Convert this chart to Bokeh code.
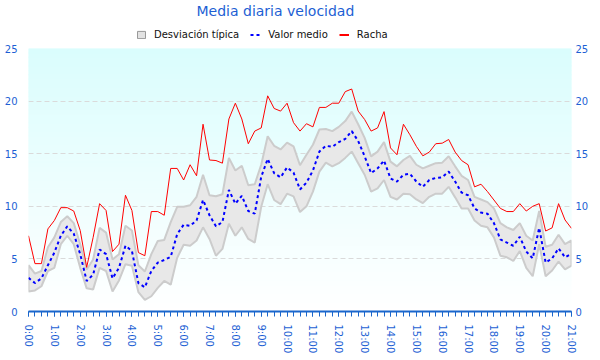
import numpy as np
from bokeh.plotting import figure
from bokeh.layouts import column
from bokeh.models import Range1d, LinearAxis, FixedTicker, Legend, LegendItem
from bokeh.embed import file_html
from bokeh.resources import INLINE

# ---- data (every 15 minutes, 0:00 .. 21:00) ----
horas = np.arange(85) * 0.25
etiquetas_horas = [f"{h}:00" for h in range(22)]
y_ticks = [0, 5, 10, 15, 20, 25]

racha = [7.2, 4.55, 4.55, 7.85, 8.65, 9.87, 9.87, 9.55, 7.7, 4.2, 7.05, 10.25, 9.6, 5.7, 6.4, 11.05, 9.6, 5.6, 5.3, 9.5, 9.5, 9.15,
         13.6, 13.6, 12.5, 13.95, 12.9, 17.8, 14.4, 14.35, 14.1, 18.3, 19.8, 18.3, 15.95, 17.15, 17.45, 20.5, 19.3, 19.05, 19.8, 17.95, 17.15,
         17.85, 17.55, 19.4, 19.4, 19.8, 19.8, 20.9, 21.15, 19.05, 18.25, 17.15, 17.45, 19.0, 15.55, 14.9, 17.8, 16.8, 15.7, 14.8, 15.15, 15.95,
         16.0, 16.35, 15.15, 14.35, 13.95, 11.85, 12.1, 11.4, 10.6, 9.8, 9.5, 9.5, 10.25, 9.55, 10.0, 10.25, 7.65, 7.95, 10.25, 8.7, 7.9]

media = [3.2, 2.7, 3.15, 4.4, 5.6, 7.2, 8.1, 7.4, 5.45, 2.9, 3.5, 5.9, 5.45, 3.15, 4.15, 6.25, 5.75, 2.7, 2.3, 3.85, 4.65, 4.9,
         5.2, 7.35, 8.25, 8.15, 8.65, 10.6, 9.15, 8.1, 8.5, 11.55, 10.25, 11.0, 9.55, 9.3, 12.8, 14.5, 13.15, 12.75, 13.7, 13.2, 11.6,
         12.25, 13.4, 15.2, 15.75, 15.65, 16.1, 16.4, 17.15, 16.2, 14.75, 13.15, 13.6, 14.35, 12.65, 12.35, 13.0, 13.1, 12.35, 11.85, 12.5, 12.7,
         12.75, 13.3, 12.35, 11.3, 11.05, 9.8, 9.4, 9.3, 8.4, 6.85, 6.55, 6.25, 7.1, 5.7, 5.05, 7.95, 4.65, 5.05, 6.0, 5.15, 5.5]

desv_sup = [4.4, 3.6, 3.85, 6.1, 7.05, 8.5, 9.05, 8.4, 6.4, 4.0, 4.95, 7.95, 7.5, 4.95, 5.45, 8.15, 7.7, 4.4, 3.8, 5.45, 6.7, 6.8,
            8.5, 9.95, 9.95, 10.1, 10.9, 13.0, 11.05, 10.95, 11.15, 14.6, 13.4, 13.85, 12.0, 12.1, 13.95, 16.65, 15.75, 15.4, 16.05, 15.7, 13.9,
            14.9, 15.85, 17.3, 17.35, 17.15, 17.55, 18.1, 19.0, 17.8, 16.5, 14.75, 15.2, 16.1, 14.25, 13.8, 14.4, 14.8, 13.95, 13.6, 13.85, 14.1,
            14.15, 14.75, 13.8, 12.9, 12.5, 10.9, 10.65, 10.4, 9.8, 8.4, 8.0, 7.75, 8.4, 7.2, 6.75, 9.55, 6.15, 6.35, 7.3, 6.4, 6.75]

desv_inf = [1.9, 2.0, 2.4, 3.85, 4.15, 6.4, 7.2, 6.4, 4.15, 2.2, 2.1, 4.15, 3.85, 1.9, 2.95, 4.5, 4.35, 1.85, 1.1, 1.45, 2.25, 2.9,
            2.55, 5.1, 6.35, 6.25, 6.75, 8.0, 6.9, 5.3, 5.95, 8.35, 7.2, 8.0, 6.9, 6.55, 9.95, 12.1, 10.6, 10.2, 11.2, 10.95, 9.45,
            10.0, 11.4, 13.3, 14.15, 13.8, 14.1, 14.6, 15.2, 14.1, 13.0, 11.4, 11.7, 12.5, 10.9, 10.65, 11.2, 11.15, 10.65, 10.3, 10.9, 11.2,
            11.2, 11.85, 10.85, 9.8, 9.8, 8.65, 8.15, 8.0, 7.05, 5.3, 5.15, 4.8, 5.75, 4.15, 3.35, 6.4, 3.35, 3.9, 4.75, 4.0, 4.35]

BLUE_TXT = "#1d5fd4"
FONT = "DejaVu Sans"
W = 592

# ---------------- header: title + legend ----------------
head = figure(width=W, height=40, output_backend="svg", toolbar_location=None,
              x_range=Range1d(0, 1), y_range=Range1d(0, 1),
              x_axis_type=None, y_axis_type=None,
              min_border_left=0, min_border_right=0, min_border_top=2, min_border_bottom=0)
head.outline_line_color = None
head.grid.visible = False
head.title.text = "Media diaria velocidad"
head.title.text_font = FONT
head.title.text_font_size = "14px"
head.title.text_font_style = "normal"
head.title.text_color = BLUE_TXT
head.title.align = "left"
head.title.offset = 168
head.title.standoff = 0

# legend proxies (kept outside the header's visible range; only their legend swatches show)
lg_band = head.quad(left=[5], right=[6], top=[6], bottom=[5], fill_color="#e2e2e2", line_color="#999999")
lg_media = head.line([5, 6], [5, 5], line_color="#0000ff", line_width=2, line_dash="3 3")
lg_racha = head.line([5, 6], [5, 5], line_color="#ff0000", line_width=2)

legend = Legend(items=[LegendItem(label="Desviación típica", renderers=[lg_band]),
                       LegendItem(label="Valor medio", renderers=[lg_media]),
                       LegendItem(label="Racha", renderers=[lg_racha])],
                orientation="horizontal", location=(108, 0), margin=0, padding=2, spacing=11,
                glyph_width=10, glyph_height=9, label_height=12, label_standoff=8,
                label_text_font=FONT, label_text_font_size="10px", label_text_color="#111111",
                border_line_color=None, background_fill_alpha=0)
head.add_layout(legend, "center")

# ---------------- main chart ----------------
p = figure(width=W, height=317, output_backend="svg", toolbar_location=None,
           x_range=Range1d(0, 21), y_range=Range1d(0, 25),
           min_border_left=28, min_border_right=21, min_border_bottom=46, min_border_top=8)
p.outline_line_color = None
p.background_fill_color = "white"
p.border_fill_color = "white"

# vertical gradient background (light cyan at top -> white at bottom)
n = 60
edges = np.linspace(0, 25, n + 1)
cols = []
for k in range(n):
    t = (edges[k] + edges[k + 1]) / 2 / 25
    r = int(round(255 - 37 * t))
    g = int(round(255 - 2 * t))
    cols.append(f"#{r:02x}{g:02x}{g:02x}")
p.quad(left=[0] * n, right=[21] * n, bottom=list(edges[:-1]), top=list(edges[1:]), fill_color=cols,
       line_color=cols, line_width=1, level="image")

# band (mean +/- std) as one patch
band_x = list(horas) + list(horas[::-1])
band_y = list(desv_sup) + list(desv_inf[::-1])
p.patch(band_x, band_y, fill_color="#e8e8e8", line_color="#cccccc", line_width=2)

p.line(list(horas), media, line_color="#0000ff", line_width=2, line_dash="3 3")
p.line(list(horas), racha, line_color="#ff0000", line_width=1)

# y axes
right_ax = LinearAxis()
p.add_layout(right_ax, "right")
for ax, st in [(p.yaxis[0], 11), (right_ax, 4)]:
    ax.ticker = FixedTicker(ticks=y_ticks)
    ax.axis_line_color = None
    ax.major_tick_line_color = None
    ax.minor_tick_line_color = None
    ax.major_tick_out = 0
    ax.major_tick_in = 0
    ax.major_label_standoff = st
    ax.major_label_text_color = BLUE_TXT
    ax.major_label_text_font = FONT
    ax.major_label_text_font_size = "10px"

# x axis
xa = p.xaxis[0]
xa.ticker = FixedTicker(ticks=list(range(22)), minor_ticks=[float(h) for h in horas])
xa.major_label_overrides = {i: etiquetas_horas[i] for i in range(22)}
xa.major_label_orientation = "vertical"
xa.axis_line_color = "#1a66cc"
xa.axis_line_width = 2
xa.major_tick_line_color = "#1a66cc"
xa.minor_tick_line_color = "#1a66cc"
xa.major_tick_out = 5
xa.major_tick_in = 0
xa.minor_tick_out = 5
xa.minor_tick_in = 0
xa.major_label_standoff = 8
xa.major_label_text_color = BLUE_TXT
xa.major_label_text_font = FONT
xa.major_label_text_font_size = "10px"

p.xgrid.visible = False
p.ygrid.ticker = FixedTicker(ticks=y_ticks)
p.ygrid.grid_line_color = "#dadada"
p.ygrid.grid_line_dash = "5 3"
p.ygrid.grid_line_width = 1

layout = column(head, p, spacing=0)
open("out.html", "w").write(file_html(layout, INLINE))
